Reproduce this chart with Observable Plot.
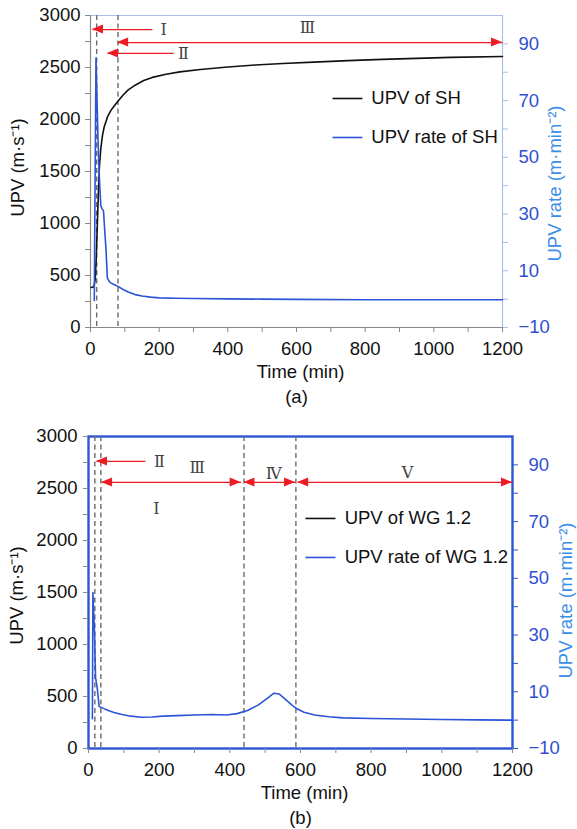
<!DOCTYPE html>
<html><head><meta charset="utf-8">
<script src="https://cdn.jsdelivr.net/npm/d3@7"></script>
<script src="https://cdn.jsdelivr.net/npm/@observablehq/plot@0.6"></script>
<style>
html,body{margin:0;padding:0;background:#fff;}
#chart{width:577px;}
#chart svg{display:block;}
</style></head><body><div id="chart"></div>
<script>
// ---------- DATA ----------
// Panel (a): UPV of SH (m/s)
const timeA_upv = [2, 10, 14, 17, 20, 23, 26, 30, 35, 40, 50, 60, 70, 80, 95, 110, 130, 155, 180, 220, 260, 320, 400, 480, 560, 650, 750, 850, 950, 1050, 1200];
const upvA = [385, 392, 470, 700, 1000, 1300, 1550, 1720, 1850, 1930, 2030, 2090, 2135, 2175, 2235, 2285, 2330, 2375, 2405, 2435, 2458, 2481, 2505, 2524, 2538, 2552, 2566, 2578, 2588, 2597, 2606];
// Panel (a): UPV rate of SH (m/min^2)
const timeA_rate = [11, 13, 16, 19, 23, 27, 30, 33, 38, 42, 45, 49, 56, 65, 80, 95, 110, 130, 150, 175, 200, 250, 300, 400, 500, 600, 800, 1000, 1200];
const rateA = [-0.5, 35, 85, 70, 52, 40, 33, 32, 31, 23, 18, 7.5, 6, 5.3, 4.5, 3.4, 2.5, 1.6, 1.1, 0.7, 0.45, 0.3, 0.2, 0.1, 0, -0.1, -0.2, -0.2, -0.2];
// Panel (b): UPV rate of WG 1.2 (m/min^2)
const timeB_rate = [11, 12.5, 17, 20, 25, 30, 36, 48, 60, 72, 95, 120, 150, 180, 210, 250, 300, 350, 390, 420, 450, 480, 505, 525, 540, 555, 575, 590, 610, 640, 680, 720, 800, 900, 1000, 1100, 1200];
const rateB = [0.5, 45, 31, 15, 11, 4.8, 4.5, 3.8, 3.2, 2.7, 2.0, 1.4, 1.0, 1.1, 1.4, 1.6, 1.8, 2.0, 1.8, 2.3, 3.4, 5.3, 7.6, 9.5, 9.2, 7.6, 5.4, 4.0, 2.8, 1.8, 1.2, 0.8, 0.6, 0.4, 0.2, 0.1, 0.0];

// Stage boundaries (min)
const stageLinesA = [18, 80];
const stageLinesB = [18, 35, 440, 587];

// Stage arrows: start time, end time, level (UPV units), heads
const arrowA_from = [5.8, 79, 49.5];
const arrowA_to = [180, 1200, 242];
const arrowA_level = [2865, 2740, 2635];
const arrowA_heads = ["start", "both", "start"];
const arrowB_from = [22.6, 37, 440, 592];
const arrowB_to = [161, 432, 586, 1200];
const arrowB_level = [2760, 2558, 2558, 2558];
const arrowB_heads = ["start", "both", "both", "both"];

// Stage labels
const stageA_text = ["Ⅰ", "Ⅲ", "Ⅱ"];
const stageA_time = [213, 632, 271];
const stageA_level = [2865, 2885, 2635];
const stageB_text = ["Ⅱ", "Ⅲ", "Ⅰ", "Ⅳ", "Ⅴ"];
const stageB_time = [201, 308, 192, 524, 903];
const stageB_level = [2760, 2702, 2308, 2644, 2654];

// Legends
const legendA = ["UPV of SH", "UPV rate of SH"];
const legendB = ["UPV of WG 1.2", "UPV rate of WG 1.2"];

// Axis ticks
const xTicks = d3.range(0, 1201, 100);
const yTicks = d3.range(0, 3001, 250);
const rateTicks = d3.range(-10, 91, 10);

// ---------- STYLE ----------
const FONT = "'Liberation Sans', Arial, sans-serif";
const SERIF = "'DejaVu Serif', 'Liberation Serif', 'Noto Sans CJK SC', serif";
const BLUE = "#2b54d8", LIGHT = "#a9bee8", TICKBLUE = "#2f4fd0", TITLEBLUE = "#3b8ee6";
const GRAY = "#8a8a8a", RED = "#ec1c24", DASH = "#6b6b6b", FRAMEBLUE = "#2d55d6";

const toUpv = r => (r + 10) * 3000 / 110;          // right axis -> left axis units
const fromUpv = p => Math.round(p * 110 / 3000 - 10);

function rows(ts, vs, f = v => v) { return ts.map((t, i) => ({t, v: f(vs[i])})); }
function arrowRows(from, to, level, heads) { return from.map((f, i) => ({x1: f, x2: to[i], y: level[i], heads: heads[i]})); }
function labelRows(text, time, level) { return text.map((s, i) => ({s, t: time[i], y: level[i]})); }

function arrowHeads(data) {
  return (index, scales) => {
    const ns = "http://www.w3.org/2000/svg";
    const g = document.createElementNS(ns, "g");
    const L = 11, W = 4.5;
    const add = (x, y, s) => {
      const p = document.createElementNS(ns, "path");
      p.setAttribute("d", `M${x},${y}L${x - s * L},${y - W}L${x - s * L},${y + W}Z`);
      p.setAttribute("fill", RED);
      g.appendChild(p);
    };
    for (const d of data) {
      const y = scales.y(d.y);
      add(scales.x(d.x1), y, -1);
      if (d.heads === "both") add(scales.x(d.x2), y, 1);
    }
    return g;
  };
}

function panel(cfg) {
  const arrows = arrowRows(cfg.aFrom, cfg.aTo, cfg.aLevel, cfg.aHeads);
  const labels = labelRows(cfg.sText, cfg.sTime, cfg.sLevel);
  const legendRows = cfg.legend.map((s, i) => ({s, y: cfg.legY[i], c: i === 0 ? "#111" : BLUE}));
  const marks = [
    cfg.frame,
    Plot.axisX({ticks: xTicks, tickFormat: d => d % 200 ? "" : String(d), tickSize: 5, tickPadding: 9, stroke: GRAY, fill: "#111", label: null}),
    Plot.axisY({ticks: yTicks, tickFormat: d => d % 500 ? "" : String(d), tickSize: 5, tickPadding: cfg.padL, stroke: GRAY, fill: "#111", label: null}),
    Plot.axisY({anchor: "right", ticks: rateTicks.map(toUpv), tickFormat: p => { const v = fromUpv(p); return (v + 10) % 20 ? "" : (v < 0 ? "\u2212" + (-v) : String(v)); }, tickSize: 5, tickPadding: 11, stroke: cfg.rightTick, fill: TICKBLUE, label: null}),
    Plot.ruleX(cfg.stageLines, {stroke: DASH, strokeWidth: 1.4, strokeDasharray: "5,3.5"}),
    ...cfg.curves,
    Plot.link(arrows, {x1: "x1", x2: "x2", y1: "y", y2: "y", stroke: RED, strokeWidth: 1.3}),
    arrowHeads(arrows),
    Plot.text(labels, {x: "t", y: "y", text: "s", fontFamily: SERIF, fontSize: 16, fill: "#444"}),
    Plot.link(legendRows, {x1: () => cfg.legX1, x2: () => cfg.legX2, y1: "y", y2: "y", stroke: "c", strokeWidth: 1.6}),
    Plot.text(legendRows, {x: () => cfg.legTX, y: "y", text: "s", textAnchor: "start", fill: "#111"}),
    Plot.text(["UPV (m\u00b7s\u207b\u00b9)"], {text: d => d, frameAnchor: "left", textAnchor: "middle", lineAnchor: "middle", dx: cfg.lTitleDx, dy: cfg.lTitleDy, rotate: -90, fill: "#111"}),
    Plot.text(["UPV rate (m\u00b7min\u207b\u00b2)"], {text: d => d, frameAnchor: "right", textAnchor: "middle", lineAnchor: "middle", dx: cfg.rTitleDx, dy: cfg.rTitleDy, rotate: -90, fill: TITLEBLUE}),
    Plot.text(["Time (min)"], {text: d => d, frameAnchor: "bottom", lineAnchor: "middle", dy: 45, dx: 4, fill: "#111"}),
    Plot.text([cfg.caption], {text: d => d, frameAnchor: "bottom", lineAnchor: "middle", dy: 70, fill: "#111"})
  ];
  return Plot.plot({
    width: 577, height: cfg.height,
    marginLeft: cfg.ml, marginRight: cfg.mr, marginTop: cfg.mt, marginBottom: cfg.mb,
    x: {domain: [0, 1200]}, y: {domain: [0, 3000]},
    style: {fontFamily: FONT, fontSize: "18.5px", color: "#111", background: "#fff", overflow: "visible"},
    marks
  });
}

const rowsA_upv = rows(timeA_upv, upvA);
const rowsA_rate = rows(timeA_rate, rateA, toUpv);
const rowsB_rate = rows(timeB_rate, rateB, toUpv);

const svgA = panel({
  height: 414, ml: 90, mr: 75, mt: 15, mb: 87, padL: 5,
  frame: [
    Plot.ruleY([3000], {stroke: LIGHT, strokeWidth: 1.2}),
    Plot.ruleX([1200], {stroke: LIGHT, strokeWidth: 1.2}),
    Plot.ruleX([0], {stroke: GRAY, strokeWidth: 1.2}),
    Plot.ruleY([0], {stroke: GRAY, strokeWidth: 1.2})
  ],
  rightTick: LIGHT,
  stageLines: stageLinesA,
  curves: [
    Plot.line(rowsA_upv, {x: "t", y: "v", stroke: "#111", strokeWidth: 1.6}),
    Plot.line(rowsA_rate, {x: "t", y: "v", stroke: BLUE, strokeWidth: 1.6})
  ],
  aFrom: arrowA_from, aTo: arrowA_to, aLevel: arrowA_level, aHeads: arrowA_heads,
  sText: stageA_text, sTime: stageA_time, sLevel: stageA_level,
  legend: legendA, legY: [2202, 1827], legX1: 705, legX2: 792, legTX: 818,
  lTitleDx: -72, lTitleDy: -4, rTitleDx: 53, rTitleDy: 12,
  caption: "(a)"
});

const svgB = panel({
  height: 415, ml: 88, mr: 65, mt: 22, mb: 81, padL: 6,
  frame: [Plot.frame({stroke: FRAMEBLUE, strokeWidth: 2.4})],
  rightTick: FRAMEBLUE,
  stageLines: stageLinesB,
  curves: [
    Plot.line(rowsB_rate, {x: "t", y: "v", stroke: BLUE, strokeWidth: 1.6})
  ],
  aFrom: arrowB_from, aTo: arrowB_to, aLevel: arrowB_level, aHeads: arrowB_heads,
  sText: stageB_text, sTime: stageB_time, sLevel: stageB_level,
  legend: legendB, legY: [2212, 1837], legX1: 614, legX2: 699, legTX: 725,
  lTitleDx: -71, lTitleDy: 3, rTitleDx: 54, rTitleDy: 8,
  caption: "(b)"
});

document.getElementById("chart").append(svgA, svgB);
</script>
</body></html>
